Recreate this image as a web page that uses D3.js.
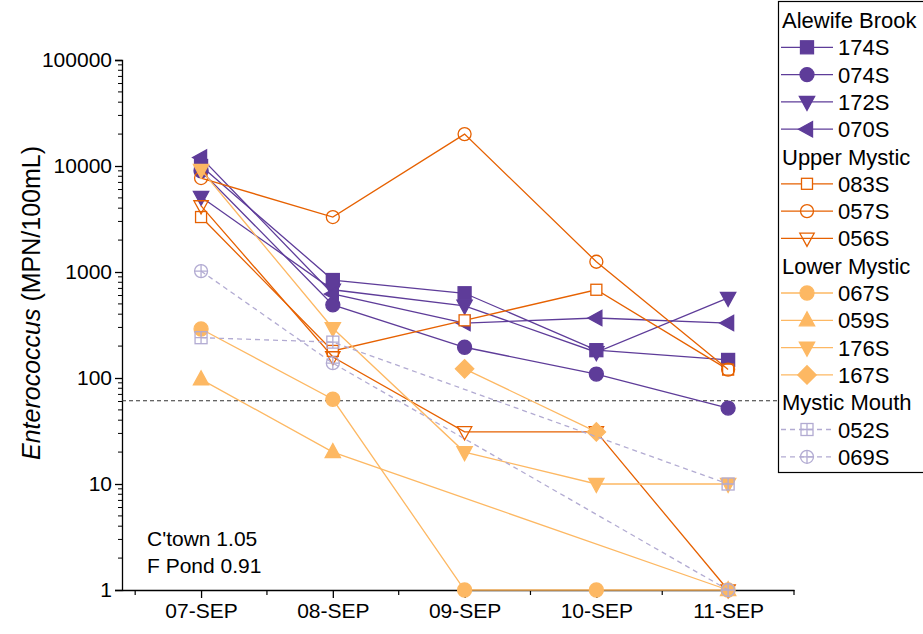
<!DOCTYPE html>
<html><head><meta charset="utf-8">
<script src="https://cdn.jsdelivr.net/npm/d3@7"></script>
<style>body{margin:0;background:#fff}svg{display:block;font-family:"Liberation Sans",Arial,sans-serif}</style>
</head><body><svg id="c" width="923" height="634"></svg>
<script>
const dates = ["07-SEP","08-SEP","09-SEP","10-SEP","11-SEP"];
const yTicks = [1,10,100,1000,10000,100000];
const s174 = [10000, 840, 630, 183, 148];
const s074 = [9000, 490, 195, 109, 52];
const s172 = [5100, 680, 480, 175, 570];
const s070 = [12000, 620, 330, 368, 330];
const s083 = [3300, 180, 350, 680, 120];
const s057 = [7700, 3300, 20000, 1250, 120];
const s056 = [4200, 158, 31, 31, 1];
const s067 = [290, 63, 1, 1, 1];
const s059 = [97, 20, null, null, 1];
const s176 = [9200, 295, 20, 10, 10];
const s167 = [null, null, 122, 31, null];
const s052 = [240, 218, null, null, 10];
const s069 = [1020, 138, null, null, 1];
const threshold = 61;
const notes = ["C'town 1.05", "F Pond 0.91"];

const PURPLE="#5e3c99", DKOR="#e66101", LTOR="#fdb863", LAV="#b2abd2";
const groups = [
 {title:"Alewife Brook", items:[
  {name:"174S", data:s174, color:PURPLE, shape:"square", fill:true},
  {name:"074S", data:s074, color:PURPLE, shape:"circle", fill:true},
  {name:"172S", data:s172, color:PURPLE, shape:"down", fill:true},
  {name:"070S", data:s070, color:PURPLE, shape:"left", fill:true}]},
 {title:"Upper Mystic", items:[
  {name:"083S", data:s083, color:DKOR, shape:"square", fill:false},
  {name:"057S", data:s057, color:DKOR, shape:"circle", fill:false},
  {name:"056S", data:s056, color:DKOR, shape:"down", fill:false}]},
 {title:"Lower Mystic", items:[
  {name:"067S", data:s067, color:LTOR, shape:"circle", fill:true},
  {name:"059S", data:s059, color:LTOR, shape:"up", fill:true},
  {name:"176S", data:s176, color:LTOR, shape:"down", fill:true},
  {name:"167S", data:s167, color:LTOR, shape:"diamond", fill:true}]},
 {title:"Mystic Mouth", items:[
  {name:"052S", data:s052, color:LAV, shape:"xsquare", fill:false, dash:"5,4"},
  {name:"069S", data:s069, color:LAV, shape:"xcircle", fill:false, dash:"5,4"}]}
];

const svg = d3.select("#c");
const x = d3.scaleLinear().domain([0.4,5.5]).range([122,794]);
const y = d3.scaleLog().domain([1,100000]).range([590,60]);

// axes
const yAxis = d3.axisLeft(y).tickValues(yTicks).tickFormat(d3.format("d")).tickSize(7).tickPadding(3);
const gy = svg.append("g").attr("transform","translate(122,0)").call(yAxis);
gy.select(".domain").attr("stroke","#000").attr("stroke-width",1.3);
gy.selectAll("text").attr("font-size",21).attr("fill","#000");
gy.selectAll("line").attr("stroke-width",1.3);
const minorY=[];
for(let e=0;e<5;e++) for(let m=2;m<=9;m++) minorY.push(m*Math.pow(10,e));
gy.selectAll(".minor").data(minorY).enter().append("line").attr("class","minor")
  .attr("x1",-4).attr("x2",0).attr("y1",d=>y(d)).attr("y2",d=>y(d)).attr("stroke","#000").attr("stroke-width",1);

const xAxis = d3.axisBottom(x).tickValues([1,2,3,4,5]).tickFormat((d,i)=>dates[i]).tickSize(8).tickPadding(5).tickSizeOuter(0);
const gx = svg.append("g").attr("transform","translate(0,590)").call(xAxis);
gx.select(".domain").attr("stroke","#000").attr("stroke-width",1.3);
gx.selectAll("text").attr("font-size",21).attr("fill","#000");
gx.selectAll("line").attr("stroke-width",1.3);
gx.selectAll(".minor").data([0.5,1.5,2.5,3.5,4.5,5.5]).enter().append("line").attr("class","minor")
  .attr("x1",d=>x(d)).attr("x2",d=>x(d)).attr("y1",0).attr("y2",5).attr("stroke","#000").attr("stroke-width",1.2);

svg.append("text").attr("transform","translate(40,303) rotate(-90)").attr("text-anchor","middle")
  .attr("font-size",25).attr("fill","#000")
  .html('<tspan font-style="italic">Enterococcus</tspan> (MPN/100mL)');

// threshold
svg.append("line").attr("x1",122).attr("x2",778).attr("y1",y(threshold)).attr("y2",y(threshold))
  .attr("stroke","#333").attr("stroke-width",1.2).attr("stroke-dasharray","4,3");

// notes
notes.forEach((t,i)=>svg.append("text").attr("x",147).attr("y",546+i*27).attr("font-size",21).attr("fill","#000").text(t));

function marker(g, s, cx, cy){
  const sw=1.3;
  const big = s.fill;
  if(s.shape==="square"){
    const h = big?6.5:5.5;
    g.append("rect").attr("x",cx-h).attr("y",cy-h).attr("width",2*h).attr("height",2*h)
     .attr("fill", s.fill?s.color:"#fff").attr("stroke",s.color).attr("stroke-width",sw);
  } else if(s.shape==="circle"){
    g.append("circle").attr("cx",cx).attr("cy",cy).attr("r",big?7:6.5)
     .attr("fill", s.fill?s.color:"none").attr("stroke",s.color).attr("stroke-width",sw);
  } else if(["up","down","left"].includes(s.shape)){
    const rot = {up:0,down:180,left:-90}[s.shape];
    const r = big?8.5:8;
    const pts = [[0,-r],[r*0.9,r*0.65],[-r*0.9,r*0.65]];
    g.append("path").attr("d","M"+pts.map(p=>p.join(",")).join("L")+"Z")
     .attr("transform",`translate(${cx},${cy}) rotate(${rot})`)
     .attr("fill", s.fill?s.color:"none").attr("stroke",s.color).attr("stroke-width",sw).attr("stroke-linejoin","miter");
  } else if(s.shape==="diamond"){
    g.append("rect").attr("x",-6.5).attr("y",-6.5).attr("width",13).attr("height",13)
     .attr("transform",`translate(${cx},${cy}) rotate(45)`)
     .attr("fill",s.color).attr("stroke",s.color).attr("stroke-width",sw);
  } else if(s.shape==="xsquare"){
    g.append("rect").attr("x",cx-6).attr("y",cy-6).attr("width",12).attr("height",12)
     .attr("fill","none").attr("stroke",s.color).attr("stroke-width",sw);
    g.append("path").attr("d",`M${cx-6},${cy}H${cx+6}M${cx},${cy-6}V${cy+6}`).attr("stroke",s.color).attr("stroke-width",sw);
  } else if(s.shape==="xcircle"){
    g.append("circle").attr("cx",cx).attr("cy",cy).attr("r",6.5)
     .attr("fill","none").attr("stroke",s.color).attr("stroke-width",sw);
    g.append("path").attr("d",`M${cx-6.5},${cy}H${cx+6.5}M${cx},${cy-6.5}V${cy+6.5}`).attr("stroke",s.color).attr("stroke-width",sw);
  }
}

const line = d3.line().x(d=>x(d.i)).y(d=>y(d.v));
const plot = svg.append("g");
groups.forEach(gr=>gr.items.forEach(s=>{
  const pts = s.data.map((v,i)=>({i:i+1,v})).filter(d=>d.v!=null);
  const g = plot.append("g");
  g.append("path").attr("d",line(pts)).attr("fill","none").attr("stroke",s.color)
    .attr("stroke-width",1.3).attr("stroke-dasharray",s.dash||null);
  pts.forEach(p=>marker(g,s,x(p.i),y(p.v)));
}));

// legend
const lg = svg.append("g");
lg.append("rect").attr("x",778.5).attr("y",1.5).attr("width",160).attr("height",471)
  .attr("fill","#fff").attr("stroke","#000").attr("stroke-width",1.2);
let row=0;
const rowH=27.3, top0=20;
groups.forEach(gr=>{
  lg.append("text").attr("x",782).attr("y",top0+row*rowH+8).attr("font-size",22).attr("fill","#000").text(gr.title);
  row++;
  gr.items.forEach(s=>{
    const cy = top0+row*rowH;
    lg.append("line").attr("x1",781).attr("x2",833).attr("y1",cy).attr("y2",cy)
      .attr("stroke",s.color).attr("stroke-width",1.3).attr("stroke-dasharray",s.dash||null);
    marker(lg,s,807,cy);
    lg.append("text").attr("x",838).attr("y",cy+8).attr("font-size",22).attr("fill","#000").text(s.name);
    row++;
  });
});
</script></body></html>
